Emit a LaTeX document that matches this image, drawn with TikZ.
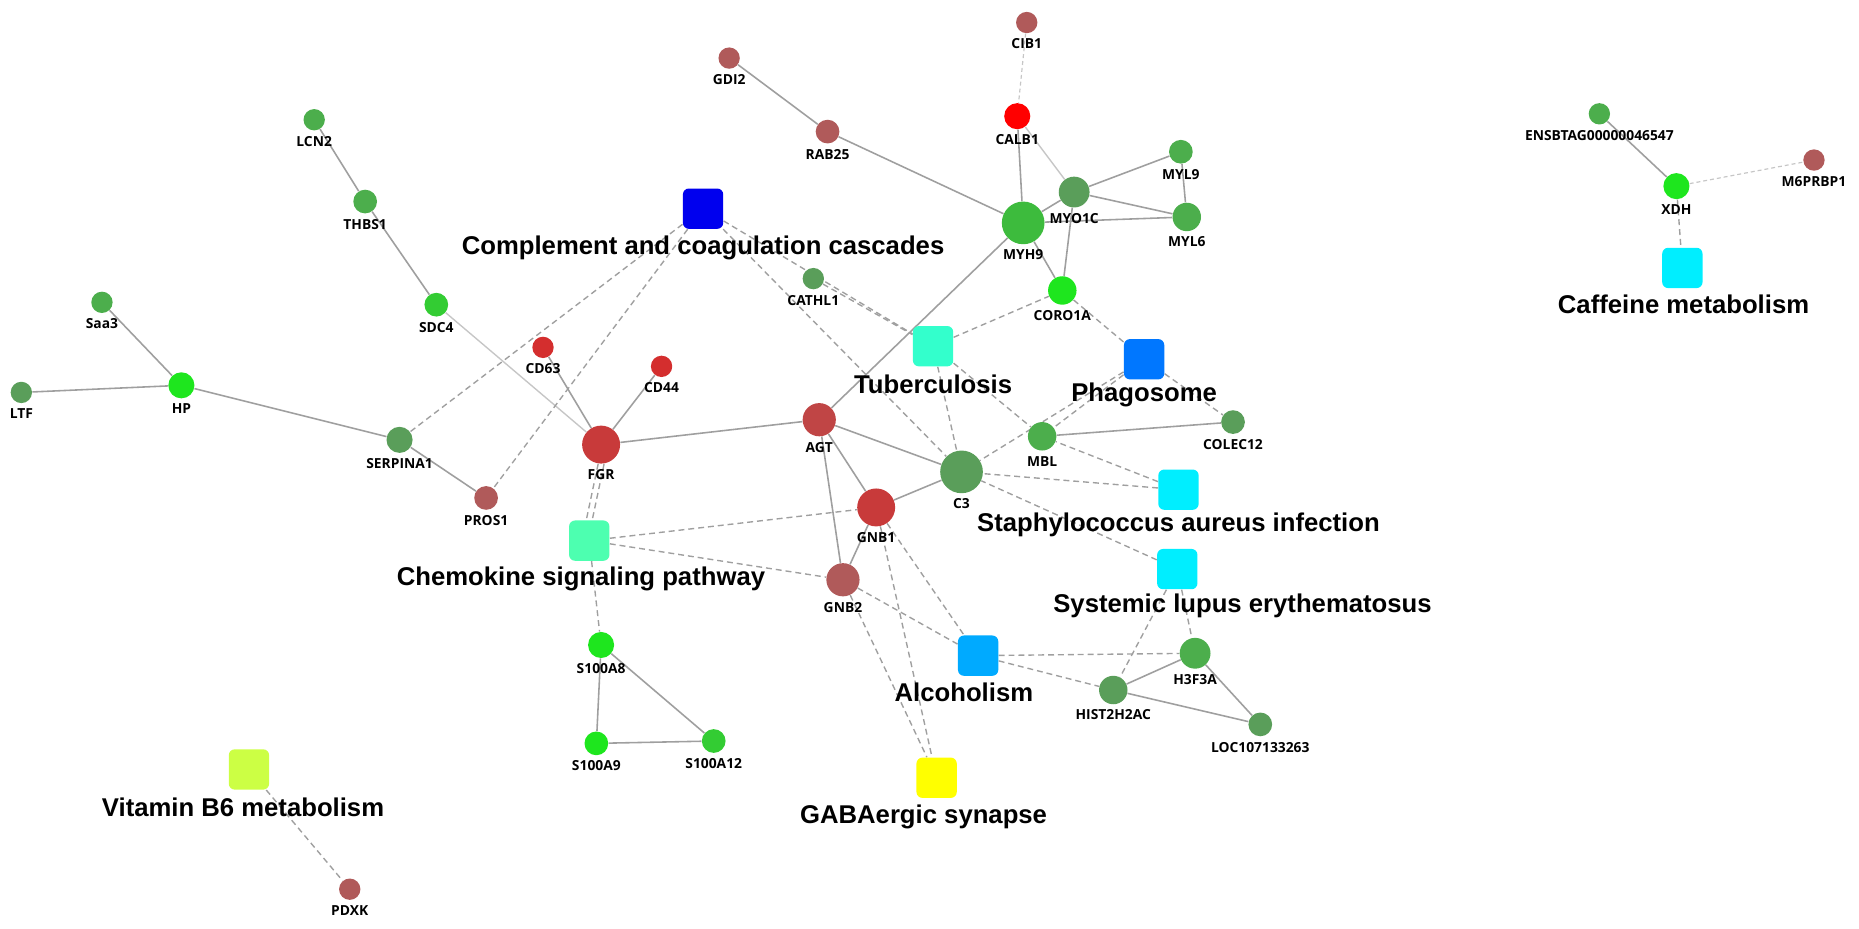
\documentclass[tikz,border=0pt]{standalone}
\usepackage{fontspec}
\setmainfont{Liberation Sans}
\newfontfamily\lbf{Open Sans}
\definecolor{brn}{HTML}{B05A5A}
\definecolor{rd}{HTML}{C83A3A}
\definecolor{rdb}{HTML}{D42E2E}
\definecolor{ga}{HTML}{3DBB3D}
\definecolor{gd}{HTML}{5A9E5A}
\definecolor{gb}{HTML}{1EE61E}
\definecolor{gm}{HTML}{4CAE4C}
\definecolor{gs}{HTML}{33CC33}
\begin{document}
\begin{tikzpicture}[x=0.6pt,y=-0.6pt,
 n/.style={circle,draw=none,inner sep=0,minimum size=#1},
 nl/.style={font=\lbf\bfseries\fontsize{7}{8}\selectfont,inner sep=0,label distance=2.5pt},
 sq/.style={rectangle,rounded corners=3pt,draw=none,minimum size=20.4pt,inner sep=0},
 pw/.style={font=\bfseries\fontsize{13}{15}\selectfont,inner sep=0},
 s/.style={draw=gray!75,line width=0.8pt},
 sl/.style={draw=gray!45,line width=0.7pt},
 d/.style={draw=gray!75,line width=0.7pt,dash pattern=on 3pt off 2pt},
 dl/.style={draw=gray!45,line width=0.6pt,dash pattern=on 2pt off 1.5pt}]
\useasboundingbox (0,0) rectangle (1568,783);
% pathway squares
\node[sq,fill={rgb,255:red,0;green,0;blue,238}] (cc) at (593,176) {};
\node[sq,fill={rgb,255:red,51;green,255;blue,204}] (tb) at (787,292) {};
\node[sq,fill={rgb,255:red,0;green,119;blue,255}] (ph) at (965,303) {};
\node[sq,fill={rgb,255:red,0;green,238;blue,255}] (sa) at (994,413) {};
\node[sq,fill={rgb,255:red,77;green,255;blue,176}] (ch) at (497,456) {};
\node[sq,fill={rgb,255:red,0;green,238;blue,255}] (sl) at (993,480) {};
\node[sq,fill={rgb,255:red,0;green,170;blue,255}] (al) at (825,553) {};
\node[sq,fill={rgb,255:red,255;green,255;blue,0}] (ga) at (790,656) {};
\node[sq,fill={rgb,255:red,204;green,255;blue,68}] (vb) at (210,649) {};
\node[sq,fill={rgb,255:red,0;green,238;blue,255}] (cf) at (1419,226) {};
\node[pw] (tcc) at (593,209) {Complement and coagulation cascades};
\node[pw] (ttb) at (787,324) {Tuberculosis};
\node[pw] (tph) at (965,333) {Phagosome};
\node[pw] (tsa) at (994,443) {Staphylococcus aureus infection};
\node[pw] (tch) at (490,488) {Chemokine signaling pathway};
\node[pw] (tsl) at (1048,511) {Systemic lupus erythematosus};
\node[pw] (tal) at (813,584) {Alcoholism};
\node[pw] (tga) at (779,689) {GABAergic synapse};
\node[pw] (tvb) at (205,681) {Vitamin B6 metabolism};
\node[pw] (tcf) at (1420,257) {Caffeine metabolism};
% gene nodes
\begin{scope}[every label/.style={nl}]
\node[n=10.8pt,fill=brn,label=below:CIB1] (cib1) at (866,19) {};
\node[n=13.2pt,fill=red,label=below:CALB1] (calb1) at (858,98) {};
\node[n=10.8pt,fill=brn,label=below:GDI2] (gdi2) at (615,49) {};
\node[n=12pt,fill=brn,label=below:RAB25] (rab25) at (698,111) {};
\node[n=21.6pt,fill=ga,label=below:MYH9] (myh9) at (863,188) {};
\node[n=15.6pt,fill=gd,label=below:MYO1C] (myo1c) at (906,162) {};
\node[n=12pt,fill=gm,label=below:MYL9] (myl9) at (996,128) {};
\node[n=14.4pt,fill=gm,label=below:MYL6] (myl6) at (1001,183) {};
\node[n=14.4pt,fill=gb,label=below:CORO1A] (coro) at (896,245) {};
\node[n=10.8pt,fill=gm,label=below:LCN2] (lcn2) at (265,101) {};
\node[n=12pt,fill=gm,label=below:THBS1] (thbs1) at (308,170) {};
\node[n=12pt,fill=gs,label=below:SDC4] (sdc4) at (368,257) {};
\node[n=10.8pt,fill=gm,label=below:Saa3] (saa3) at (86,255) {};
\node[n=13.2pt,fill=gb,label=below:HP] (hp) at (153,325) {};
\node[n=10.8pt,fill=gd,label=below:LTF] (ltf) at (18,331) {};
\node[n=13.2pt,fill=gd,label=below:SERPINA1] (serp) at (337,371) {};
\node[n=12pt,fill=brn,label=below:PROS1] (pros1) at (410,420) {};
\node[n=10.8pt,fill=rdb,label=below:CD63] (cd63) at (458,293) {};
\node[n=10.8pt,fill=rdb,label=below:CD44] (cd44) at (558,309) {};
\node[n=19.2pt,fill=rd,label=below:FGR] (fgr) at (507,375) {};
\node[n=10.8pt,fill=gd,label=below:CATHL1] (cathl1) at (686,235) {};
\node[n=12pt,fill=gd,label=below:COLEC12] (colec) at (1040,356) {};
\node[n=16.8pt,fill={rgb,255:red,192;green,69;blue,69},label=below:AGT] (agt) at (691,354) {};
\node[n=14.4pt,fill=gm,label=below:MBL] (mbl) at (879,368) {};
\node[n=21.6pt,fill=gd,label=below:C3] (c3) at (811,398) {};
\node[n=19.2pt,fill=rd,label=below:GNB1] (gnb1) at (739,428) {};
\node[n=16.8pt,fill=brn,label=below:GNB2] (gnb2) at (711,489) {};
\node[n=13.2pt,fill=gb,label=below:S100A8] (s8) at (507,544) {};
\node[n=15.6pt,fill=gm,label=below:H3F3A] (h3) at (1008,551) {};
\node[n=14.4pt,fill=gd,label=below:HIST2H2AC] (hist) at (939,582) {};
\node[n=12pt,fill=gd,label=below:LOC107133263] (loc) at (1063,611) {};
\node[n=12pt,fill=gb,label=below:S100A9] (s9) at (503,627) {};
\node[n=12pt,fill=gs,label=below:S100A12] (s12) at (602,625) {};
\node[n=10.8pt,fill=brn,label=below:PDXK] (pdxk) at (295,750) {};
\node[n=10.8pt,fill=gm,label=below:ENSBTAG00000046547] (ens) at (1349,96) {};
\node[n=10.8pt,fill=brn,label=below:M6PRBP1] (m6) at (1530,135) {};
\node[n=13.2pt,fill=gb,label=below:XDH] (xdh) at (1414,157) {};
\end{scope}
\begin{scope}[on background layer/.style={}]
\end{scope}
% edges (drawn behind via pgf layers)
\pgfdeclarelayer{bg}\pgfsetlayers{bg,main}
\begin{pgfonlayer}{bg}
\draw[dl] (cib1) -- (calb1);
\draw[s] (calb1) -- (myh9);
\draw[sl] (calb1) -- (myo1c);
\draw[s] (gdi2) -- (rab25);
\draw[s] (rab25) -- (myh9);
\draw[s] (myh9) -- (myo1c);
\draw[s] (myh9) -- (myl6);
\draw[s] (myh9) -- (coro);
\draw[s] (myh9) -- (agt);
\draw[s] (myo1c) -- (myl9);
\draw[s] (myo1c) -- (myl6);
\draw[s] (myl9) -- (myl6);
\draw[s] (myo1c) -- (coro);
\draw[s] (lcn2) -- (thbs1);
\draw[s] (thbs1) -- (sdc4);
\draw[sl] (sdc4) -- (fgr);
\draw[s] (saa3) -- (hp);
\draw[s] (ltf) -- (hp);
\draw[s] (hp) -- (serp);
\draw[s] (serp) -- (pros1);
\draw[s] (cd63) -- (fgr);
\draw[s] (cd44) -- (fgr);
\draw[s] (fgr) -- (agt);
\draw[s] (agt) -- (c3);
\draw[s] (agt) -- (gnb1);
\draw[s] (agt) -- (gnb2);
\draw[s] (gnb1) -- (c3);
\draw[s] (gnb1) -- (gnb2);
\draw[s] (mbl) -- (colec);
\draw[s] (s8) -- (s9);
\draw[s] (s8) -- (s12);
\draw[s] (s9) -- (s12);
\draw[s] (h3) -- (hist);
\draw[s] (hist) -- (loc);
\draw[s] (h3) -- (loc);
\draw[s] (ens) -- (xdh);
\draw[d] (cc) -- (serp);
\draw[d] (cc) -- (pros1);
\draw[d] (cc) -- (tb);
\draw[d] (cc) -- (c3);
\draw[d] (cathl1) -- (tb);
\draw[d] (tb) -- (coro);
\draw[d] (tb) -- (c3);
\draw[d] (tb) -- (mbl);
\draw[d] (ph) -- (coro);
\draw[d] (ph) -- (mbl);
\draw[d] (ph) -- (c3);
\draw[d] (ph) -- (colec);
\draw[d] (sa) -- (mbl);
\draw[d] (sa) -- (c3);
\draw[d] (sl) -- (c3);
\draw[d] ([xshift=-1.5pt]fgr.south) -- ([xshift=-1.5pt]ch.north);
\draw[d] ([xshift=1.5pt]fgr.south) -- ([xshift=1.5pt]ch.north);
\draw[d] (ch) -- (gnb1);
\draw[d] (ch) -- (gnb2);
\draw[d] (ch) -- (s8);
\draw[d] (gnb1) -- (al);
\draw[d] (gnb2) -- (al);
\draw[d] (gnb1) -- (ga);
\draw[d] (gnb2) -- (ga);
\draw[d] (al) -- (h3);
\draw[d] (al) -- (hist);
\draw[d] (sl) -- (h3);
\draw[d] (sl) -- (hist);
\draw[d] (vb) -- (pdxk);
\draw[d] (xdh) -- (cf);
\draw[dl] (xdh) -- (m6);
\end{pgfonlayer}
\end{tikzpicture}
\end{document}
